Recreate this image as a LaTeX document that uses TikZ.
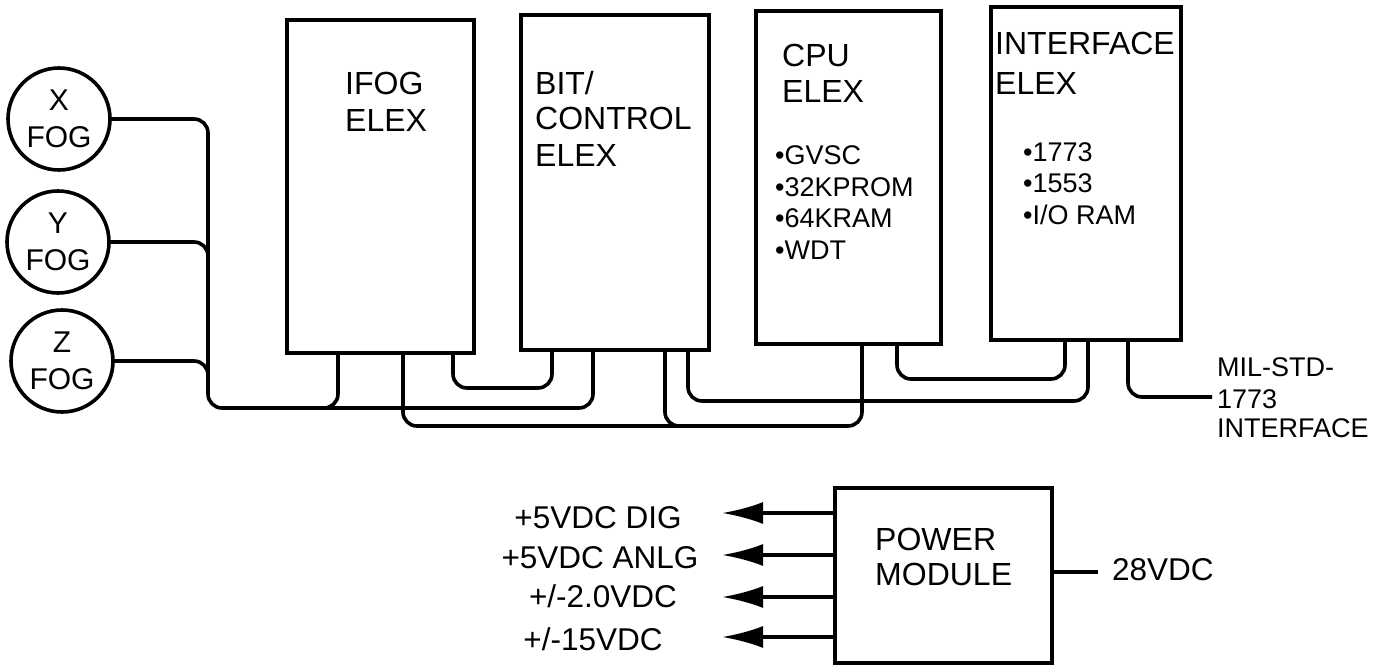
\documentclass[tikz,border=0pt]{standalone}
\usepackage{fontspec}
\setmainfont{Liberation Sans}
\usetikzlibrary{arrows.meta}
\begin{document}
\begin{tikzpicture}[x=1pt,y=-1pt,
  every node/.style={inner sep=0pt},
  box/.style={draw, line width=4pt, outer sep=0pt, anchor=north west},
  wire/.style={line width=3.6pt, rounded corners=14pt},
  ttl/.style={anchor=base west, font=\fontsize{32}{36}\selectfont},
  itm/.style={anchor=base west, font=\fontsize{27}{30}\selectfont},
  fog/.style={circle, draw, line width=3.6pt, outer sep=0pt, minimum size=102pt, align=center, font=\fontsize{30}{37}\selectfont},
  pwr/.style={anchor=base, font=\fontsize{31.5}{36}\selectfont},
  outarrow/.style={line width=3.6pt, -{Latex[length=41pt,width=22pt]}}
]
\useasboundingbox (0,0) rectangle (1385,668);

% FOG sensors
\node[fog] (xfog) at (59,119) {X\\FOG};
\node[fog] (yfog) at (58,242) {Y\\FOG};
\node[fog] (zfog) at (62,361) {Z\\FOG};

% electronics boxes
\node[box, minimum width=187pt, minimum height=333pt] (ifog) at (287,20) {};
\node[box, minimum width=188pt, minimum height=335pt] (bit) at (521,15) {};
\node[box, minimum width=185pt, minimum height=333pt] (cpu) at (756,11) {};
\node[box, minimum width=190pt, minimum height=333pt] (intf) at (991,7) {};

% box texts
\node[ttl] (t1a) at (345,95) {IFOG};
\node[ttl] (t1b) at (345,132) {ELEX};
\node[ttl] (t2a) at (535,95) {BIT/};
\node[ttl] (t2b) at (535,130) {CONTROL};
\node[ttl] (t2c) at (535,167) {ELEX};
\node[ttl] (t3a) at (782,67) {CPU};
\node[ttl] (t3b) at (782,103) {ELEX};
\node[itm] (t3c) at (775,165) {•GVSC};
\node[itm] (t3d) at (775,197) {•32KPROM};
\node[itm] (t3e) at (775,228) {•64KRAM};
\node[itm] (t3f) at (775,260) {•WDT};
\node[ttl] (t4a) at (995,55) {INTERFACE};
\node[ttl] (t4b) at (995,95) {ELEX};
\node[itm] (t4c) at (1023,162) {•1773};
\node[itm] (t4d) at (1023,193) {•1553};
\node[itm] (t4e) at (1023,225) {•I/O RAM};

% sensor bus
\draw[wire] (xfog.east) -| (208,408) -- (593,408) -- (593,0 |- bit.south);
\draw[wire] (yfog.east) -| (208,300);
\draw[wire] (zfog.east) -| (208,390);
\draw[wire] (338,0 |- ifog.south) |- (300,408);

% interconnects
\draw[wire] (453,0 |- ifog.south) |- (552,388) -- (552,0 |- bit.south);
\draw[wire] (403,0 |- ifog.south) |- (862,426) -- (862,0 |- cpu.south);
\draw[wire] (665,0 |- bit.south) |- (720,426);
\draw[wire] (688,0 |- bit.south) |- (1088,401) -- (1088,0 |- intf.south);
\draw[wire] (897,0 |- cpu.south) |- (1065,379) -- (1065,0 |- intf.south);

% external interface
\node[itm] (m1) at (1217,377) {MIL-STD-};
\node[itm] (m2) at (1217,408) {1773};
\node[itm] (m3) at (1217,438) {INTERFACE};
\coordinate (milend) at (1212,397);
\draw[wire] (1128,0 |- intf.south) |- (milend);

% power module
\node[box, minimum width=217pt, minimum height=175pt] (pm) at (835,488) {};
\node[ttl] (pma) at (875,550) {POWER};
\node[ttl] (pmb) at (875,585) {MODULE};

\foreach \yy/\nm in {513/a,555/b,597/c,637/d}{
  \coordinate (tip\nm) at (722,\yy);
  \draw[outarrow] (pm.west |- tip\nm) -- (tip\nm);
}
\node[pwr] (la) at (598,528) {+5VDC DIG};
\node[pwr] (lb) at (600,568) {+5VDC ANLG};
\node[pwr] (lc) at (603,607) {+/-2.0VDC};
\node[pwr] (ld) at (593,650) {+/-15VDC};

\node[anchor=base west, font=\fontsize{31.5}{36}\selectfont] (v28) at (1112,580) {28VDC};
\coordinate (v28l) at (1098,572);
\draw[line width=3.6pt] (pm.east |- v28l) -- (v28l);
\end{tikzpicture}
\end{document}
